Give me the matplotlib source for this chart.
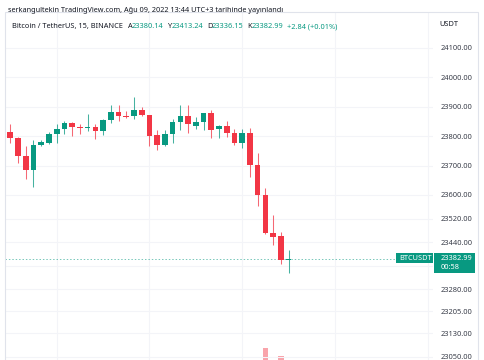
import numpy as np
import matplotlib
matplotlib.use("Agg")
import matplotlib.pyplot as plt
from matplotlib.patches import Rectangle

plt.rcParams['font.family'] = ['Noto Sans', 'DejaVu Sans']

# 15m BTC/USDT candles
opens = [23815, 23794, 23732, 23685, 23770, 23778, 23808, 23824, 23846, 23832,
         23829, 23832, 23818, 23855, 23883, 23869, 23867, 23889, 23872, 23803,
         23771, 23809, 23849, 23870, 23835, 23849, 23879, 23823, 23833, 23811,
         23776, 23810, 23703, 23601, 23470, 23462, 23380.14]
closes = [23794, 23732, 23685, 23770, 23780, 23808, 23824, 23846, 23831, 23829,
          23832, 23818, 23855, 23883, 23868, 23866, 23889, 23872, 23801, 23771,
          23809, 23849, 23870, 23840, 23849, 23879, 23822, 23833, 23811, 23776,
          23810, 23703, 23601, 23470, 23457, 23380, 23382.99]
highs = [23840, 23796, 23767, 23787, 23787, 23815, 23843, 23850, 23847, 23841,
         23877, 23843, 23859, 23905, 23905, 23884, 23932, 23900, 23873, 23820,
         23820, 23858, 23905, 23905, 23866, 23880, 23890, 23839, 23852, 23824,
         23824, 23828, 23743, 23625, 23531, 23473, 23413.24]
lows = [23777, 23710, 23656, 23628, 23767, 23775, 23777, 23808, 23802, 23806,
        23819, 23792, 23805, 23845, 23850, 23861, 23859, 23867, 23766, 23754,
        23765, 23778, 23822, 23812, 23826, 23820, 23795, 23795, 23798, 23769,
        23761, 23662, 23564, 23468, 23429, 23364, 23336.15]
volumes = [600, 800, 900, 950, 500, 450, 500, 550, 450, 400,
           450, 400, 500, 600, 500, 350, 550, 450, 800, 700,
           600, 650, 600, 650, 450, 500, 600, 450, 450, 600,
           650, 1100, 1150, 1550, 1100, 1330, 400]

price_ticks = [24100, 24000, 23900, 23800, 23700, 23600, 23520, 23440,
               23360, 23280, 23205, 23130, 23050]
last_price = 23382.99

GREEN = '#089981'
RED = '#f23645'
TXT = '#131722'

W, H = 485, 360
fig = plt.figure(figsize=(W / 100, H / 100), dpi=100)

def fx(x):
    return x / W

def fy(y):
    return 1 - y / H

idx = np.arange(len(opens))
o = np.array(opens); c = np.array(closes)
hi = np.array(highs); lo = np.array(lows)
up = c >= o
cols = np.where(up, GREEN, RED)

# volume pane (mostly below the visible area)
vax = fig.add_axes([fx(5), fy(400), fx(428), 100 / H], zorder=0)
vax.bar(idx, volumes, width=0.73, color=cols, alpha=0.45, linewidth=0)
vax.set_xlim(-0.686, 54.68)
vax.set_ylim(0, 3000)
vax.axis('off')

ax = fig.add_axes([fx(5), 0, fx(428), 1 - 12 / H], zorder=1)
ax.set_facecolor('none')
ax.set_xlim(-0.686, 54.68)
ax.set_ylim(23038.8, 24222.4)

ax.vlines(idx, lo, hi, colors=cols, linewidth=0.75, alpha=0.75, zorder=3)
body_h = np.maximum(np.abs(c - o), 3.5)
ax.bar(idx, body_h, bottom=np.minimum(o, c), width=0.73, color=cols,
       linewidth=0, zorder=4)

ax.axhline(last_price, color=GREEN, linewidth=0.7, linestyle=(0, (1.5, 2)),
           alpha=0.55, zorder=2)

ax.set_xticks([6, 18, 30, 42, 54])
ax.set_yticks(price_ticks)
# the 23360 label sits under the last-price tag
ax.set_yticklabels(['' if p == 23360 else '%.2f' % p for p in price_ticks])
ax.yaxis.tick_right()
ax.tick_params(axis='y', length=0, pad=5.8, labelsize=5.4, labelcolor='#3a3e4a')
ax.tick_params(axis='x', length=0, labelbottom=False)
ax.grid(True, color='#f3f4f8', linewidth=0.75)
ax.set_axisbelow(True)
for s in ax.spines.values():
    s.set_visible(False)

# outer frame
fig.patches.append(Rectangle((fx(5), fy(365)), fx(473), (365 - 12) / H,
                             transform=fig.transFigure, fill=False,
                             edgecolor='#e0e3eb', linewidth=0.8))

# header
fig.text(fx(8), fy(10), 'serkangultekin TradingView.com, Ağu 09, 2022 13:44 UTC+3 tarihinde yayınlandı',
         fontsize=5.25, color=TXT, va='center', ha='left')
hy = fy(26.5)
fig.text(fx(11.7), hy, 'Bitcoin / TetherUS, 15, BINANCE', fontsize=5.3, color=TXT, va='center')
for lab, val, x0 in [('A', '23380.14', 127.7), ('Y', '23413.24', 167.7),
                     ('D', '23336.15', 207.3), ('K', '23382.99', 247.3)]:
    fig.text(fx(x0), hy, lab, fontsize=5.3, color=TXT, va='center')
    fig.text(fx(x0 + 4.3), hy, val, fontsize=5.3, color=GREEN, va='center')
fig.text(fx(287.3), hy, '+2.84 (+0.01%)', fontsize=5.3, color=GREEN, va='center')
fig.text(fx(439.3), fy(25), 'USDT', fontsize=5.3, color=TXT, va='center')

# last price labels
fig.patches.append(Rectangle((fx(396), fy(263.3)), fx(37), 10.6 / H,
                             transform=fig.transFigure, facecolor=GREEN,
                             edgecolor='none', zorder=5))
fig.patches.append(Rectangle((fx(434), fy(272.7)), fx(41), 20 / H,
                             transform=fig.transFigure, facecolor=GREEN,
                             edgecolor='none', zorder=5))
fig.text(fx(399), fy(258), 'BTCUSDT', fontsize=5.3, color='white',
         fontweight='bold', va='center', zorder=6)
fig.text(fx(441), fy(258), '%.2f' % last_price, fontsize=5.3, color='white',
         va='center', zorder=6)
fig.text(fx(441), fy(267.5), '00:58', fontsize=5.3, color='white',
         va='center', zorder=6)

fig.savefig('out.png', dpi=100, facecolor='white')
